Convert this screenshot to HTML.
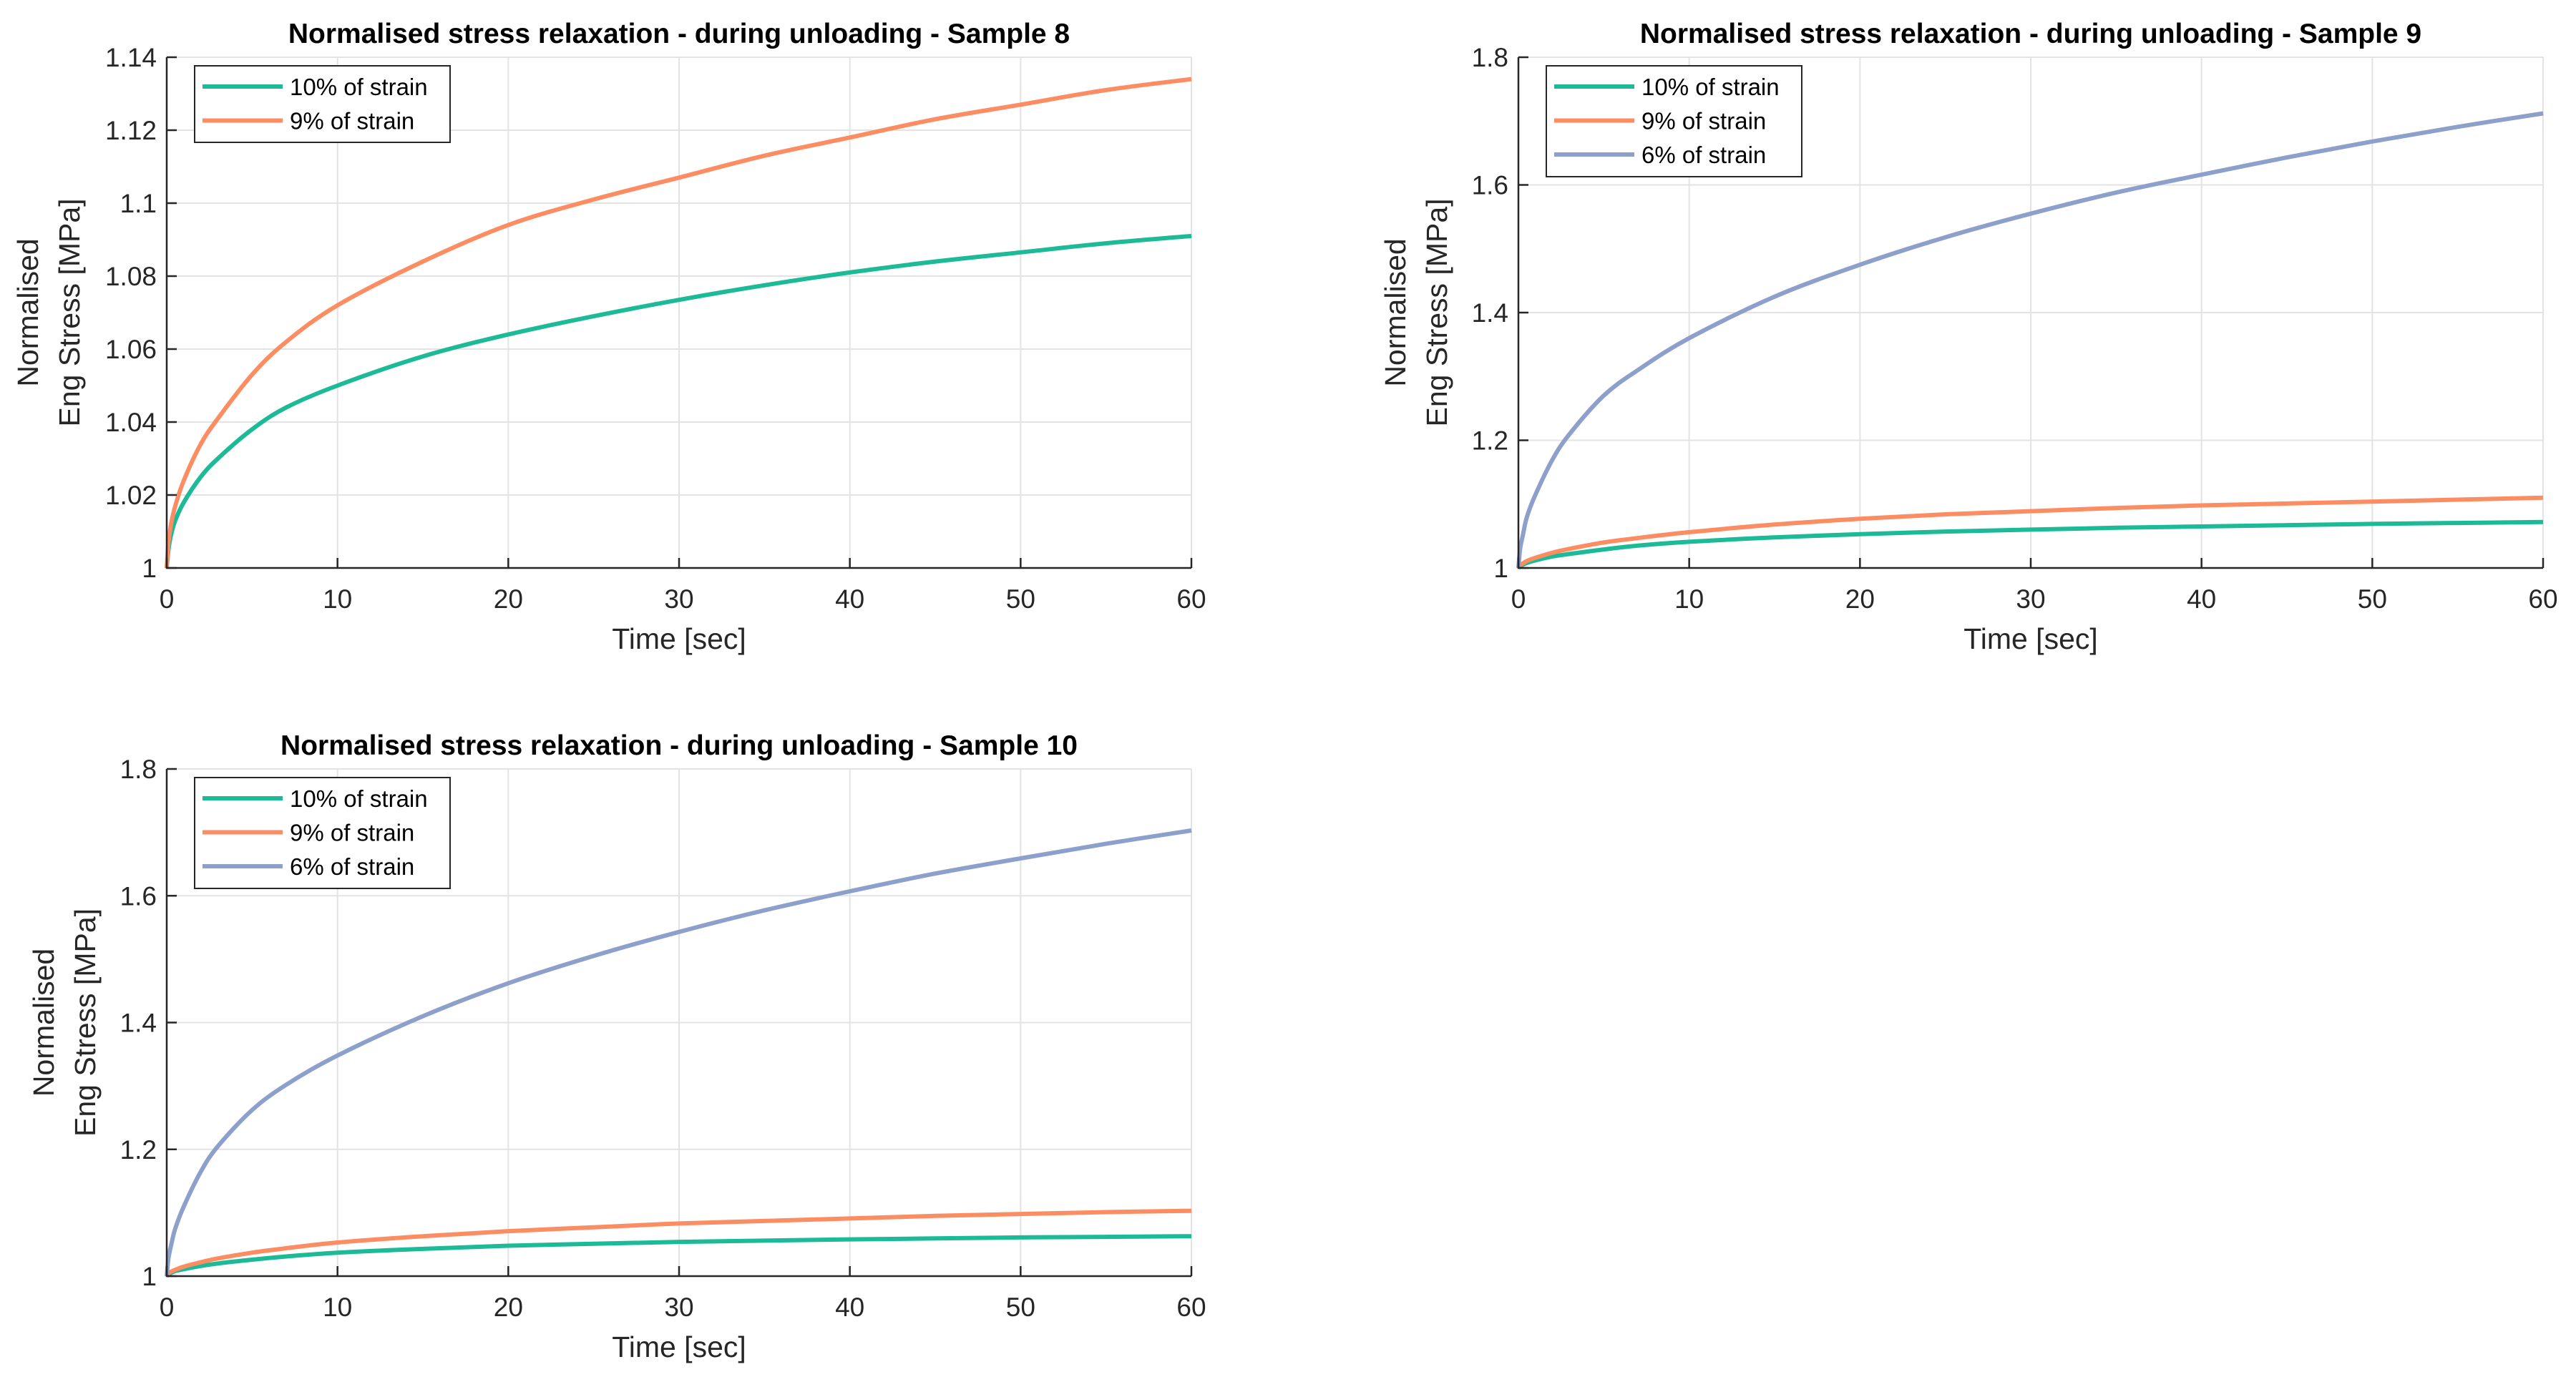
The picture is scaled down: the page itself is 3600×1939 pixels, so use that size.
<!DOCTYPE html>
<html><head><meta charset="utf-8"><style>
html,body{margin:0;padding:0;background:#fff;}
svg{display:block;font-family:"Liberation Sans",Arial,sans-serif;}
</style></head><body>
<svg id="fig" width="3600" height="1939" viewBox="0 0 3600 1939" xmlns="http://www.w3.org/2000/svg"></svg>
<script>
const timeS8 = [0,0.1,0.25,0.5,1,2,3,5,7,10,15,20,25,30,35,40,45,50,55,60];
const s8_10 = [1,1.005,1.009,1.013,1.018,1.025,1.030,1.038,1.044,1.050,1.058,1.064,1.069,1.0735,1.0775,1.081,1.084,1.0865,1.089,1.091];
const s8_9  = [1,1.007,1.012,1.017,1.024,1.034,1.041,1.053,1.062,1.072,1.084,1.094,1.101,1.107,1.113,1.118,1.123,1.127,1.131,1.134];
const s9_10 = [1,1.003,1.005,1.008,1.012,1.018,1.022,1.029,1.035,1.041,1.048,1.053,1.057,1.060,1.063,1.065,1.067,1.069,1.0705,1.072];
const s9_9  = [1,1.004,1.007,1.011,1.016,1.024,1.030,1.040,1.047,1.056,1.068,1.077,1.084,1.089,1.094,1.098,1.101,1.104,1.107,1.110];
const s9_6  = [1,1.03,1.05,1.08,1.115,1.17,1.21,1.27,1.31,1.36,1.425,1.475,1.518,1.555,1.588,1.616,1.643,1.668,1.691,1.712];
const s10_10= [1,1.003,1.005,1.008,1.011,1.016,1.020,1.026,1.031,1.037,1.043,1.048,1.051,1.054,1.056,1.058,1.0595,1.061,1.062,1.063];
const s10_9 = [1,1.004,1.007,1.010,1.015,1.022,1.028,1.037,1.044,1.053,1.063,1.071,1.077,1.083,1.087,1.091,1.095,1.098,1.101,1.103];
const s10_6 = [1,1.028,1.048,1.075,1.11,1.165,1.205,1.262,1.302,1.348,1.41,1.462,1.505,1.543,1.577,1.607,1.635,1.659,1.682,1.703];
const xTicks = [0,10,20,30,40,50,60];
const yTicks8 = [1,1.02,1.04,1.06,1.08,1.1,1.12,1.14];
const yTicks8Labels = ["1","1.02","1.04","1.06","1.08","1.1","1.12","1.14"];
const yTicks9 = [1,1.2,1.4,1.6,1.8];
const yTicks9Labels = ["1","1.2","1.4","1.6","1.8"];
const legendLabels = ["10% of strain","9% of strain","6% of strain"];

const COLORS = ["#1dba97","#fc8d62","#8da0cb"];
const NS = "http://www.w3.org/2000/svg";
const svg = document.getElementById("fig");
function mk(tag, attrs, parent){
  const e = document.createElementNS(NS, tag);
  for (const k in attrs) e.setAttribute(k, attrs[k]);
  (parent||svg).appendChild(e);
  return e;
}
function smoothPath(P){
  let d = "M"+P[0][0].toFixed(1)+","+P[0][1].toFixed(1);
  for(let i=0;i<P.length-1;i++){
    const p0=P[Math.max(0,i-1)], p1=P[i], p2=P[i+1], p3=P[Math.min(P.length-1,i+2)];
    const c1x=p1[0]+(p2[0]-p0[0])/6, c1y=p1[1]+(p2[1]-p0[1])/6;
    const c2x=p2[0]-(p3[0]-p1[0])/6, c2y=p2[1]-(p3[1]-p1[1])/6;
    d+=` C${c1x.toFixed(1)},${c1y.toFixed(1)} ${c2x.toFixed(1)},${c2y.toFixed(1)} ${p2[0].toFixed(1)},${p2[1].toFixed(1)}`;
  }
  return d;
}
function panel(cfg){
  const g = mk("g", {});
  
  
  const {x0,x1,y0,y1,ymin,ymax} = cfg;
  const sx = v => x0 + (v-0)/(60-0)*(x1-x0);
  const sy = v => y1 - (v-ymin)/(ymax-ymin)*(y1-y0);
  xTicks.forEach(t=>{
    const l = mk("line",{x1:sx(t),x2:sx(t),y1:y0,y2:y1,stroke:"#e3e3e3","stroke-width":2},g);
    
    
  });
  cfg.yt.forEach(t=>{
    const l = mk("line",{x1:x0,x2:x1,y1:sy(t),y2:sy(t),stroke:"#e3e3e3","stroke-width":2},g);
    
    
  });
  cfg.series.forEach((s,i)=>{
    const P = timeS8.map((t,j)=>[sx(t),sy(s[j])]);
    const p = mk("path",{d:smoothPath(P),fill:"none",stroke:COLORS[i],"stroke-width":6,"stroke-linejoin":"round"},g);
    
    
  });
  const ax = mk("path",{d:`M${x0},${y0} L${x0},${y1} L${x1},${y1}`,fill:"none",stroke:"#262626","stroke-width":2.5},g);
  
  
  xTicks.forEach(t=>{
    mk("line",{x1:sx(t),x2:sx(t),y1:y1,y2:y1-14,stroke:"#262626","stroke-width":2.5},g);
    const tx = mk("text",{x:sx(t),y:y1+56,"text-anchor":"middle","font-size":37,fill:"#262626"},g);
    tx.textContent = t;
    
    
  });
  cfg.yt.forEach((t,i)=>{
    mk("line",{x1:x0,x2:x0+14,y1:sy(t),y2:sy(t),stroke:"#262626","stroke-width":2.5},g);
    const tx = mk("text",{x:x0-14,y:sy(t)+13,"text-anchor":"end","font-size":37,fill:"#262626"},g);
    tx.textContent = cfg.ytl[i];
    
    
  });
  const xl = mk("text",{x:(x0+x1)/2,y:y1+113,"text-anchor":"middle","font-size":41,fill:"#262626"},g);
  xl.textContent = "Time [sec]";
  
  
  const yc = (y0+y1)/2;
  const yl = mk("text",{transform:`translate(${x0+cfg.ylo},${yc}) rotate(-90)`,"text-anchor":"middle","font-size":41,fill:"#262626"},g);
  
  
  const a = mk("tspan",{x:0,dy:0},yl); a.textContent="Normalised";
  const b = mk("tspan",{x:0,dy:58},yl); b.textContent="Eng Stress [MPa]";
  const ti = mk("text",{x:(x0+x1)/2,y:y0-20,"text-anchor":"middle","font-size":39,"font-weight":"bold",fill:"#000"},g);
  ti.textContent = cfg.title;
  
  
  const n = cfg.series.length;
  const lx = x0+39, ly = y0+12, lw = 357, lh = 48*n+11;
  const lg = mk("g",{},g);
  
  
  mk("rect",{x:lx,y:ly,width:lw,height:lh,fill:"#fff",stroke:"#262626","stroke-width":2},lg);
  for(let i=0;i<n;i++){
    const ry = ly+29+i*47.5;
    mk("line",{x1:lx+11,x2:lx+123,y1:ry,y2:ry,stroke:COLORS[i],"stroke-width":6},lg);
    const t = mk("text",{x:lx+133,y:ry+12,"font-size":33,fill:"#000"},lg);
    t.textContent = legendLabels[i];
    
    
  }
}
panel({name:"chart-sample-8",title:"Normalised stress relaxation - during unloading - Sample 8",x0:233,x1:1665,y0:80,y1:794,ymin:1,ymax:1.14,yt:yTicks8,ytl:yTicks8Labels,ylo:-180,series:[s8_10,s8_9]});
panel({name:"chart-sample-9",title:"Normalised stress relaxation - during unloading - Sample 9",x0:2122,x1:3554,y0:80,y1:794,ymin:1,ymax:1.8,yt:yTicks9,ytl:yTicks9Labels,ylo:-158,series:[s9_10,s9_9,s9_6]});
panel({name:"chart-sample-10",title:"Normalised stress relaxation - during unloading - Sample 10",x0:233,x1:1665,y0:1075,y1:1784,ymin:1,ymax:1.8,yt:yTicks9,ytl:yTicks9Labels,ylo:-158,series:[s10_10,s10_9,s10_6]});
</script>
</body></html>
